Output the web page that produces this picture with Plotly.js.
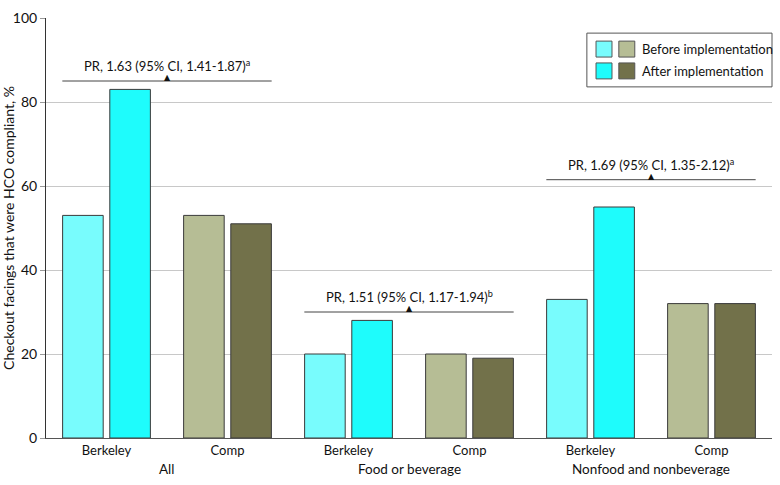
<!DOCTYPE html>
<html>
<head>
<meta charset="utf-8">
<script src="https://cdn.plot.ly/plotly-3.0.1.min.js"></script>
<style>body{margin:0;padding:0;background:#fff}#chart{width:780px;height:485px}</style>
</head>
<body>
<div id="chart"></div>
<script>
// ---- Data ----
const groups = ["All", "Food or beverage", "Nonfood and nonbeverage"];
const sites = ["Berkeley", "Comp", "Berkeley", "Comp", "Berkeley", "Comp"];
const beforeValues = [53, 53, 20, 20, 33, 32];
const afterValues = [83, 51, 28, 19, 55, 32];
const prLabels = [
  "PR, 1.63 (95% CI, 1.41-1.87)<sup>a</sup>",
  "PR, 1.51 (95% CI, 1.17-1.94)<sup>b</sup>",
  "PR, 1.69 (95% CI, 1.35-2.12)<sup>a</sup>"
];
const prLineY = [85, 30, 61.5];
const seriesNames = ["Before implementation", "After implementation"];

// ---- Styles ----
const colBerkBefore = "#78fcfd", colBerkAfter = "#1efcfc";
const colCompBefore = "#b6bd95", colCompAfter = "#72714a";
const font = "Lato, Open Sans, sans-serif";

const xIdx = sites.map((_, i) => i);
const beforeColors = sites.map(s => s === "Berkeley" ? colBerkBefore : colCompBefore);
const afterColors = sites.map(s => s === "Berkeley" ? colBerkAfter : colCompAfter);

const traces = [
  {type: "bar", name: seriesNames[0], x: xIdx, y: beforeValues,
   marker: {color: beforeColors, line: {color: "#3a3a3a", width: 1}}, hoverinfo: "y"},
  {type: "bar", name: seriesNames[1], x: xIdx, y: afterValues,
   marker: {color: afterColors, line: {color: "#3a3a3a", width: 1}}, hoverinfo: "y"}
];

const shapes = [];
const annotations = [];

// group labels
groups.forEach((g, i) => {
  annotations.push({x: 2 * i + 0.5, xref: "x", y: -0.074, yref: "paper", text: g,
    showarrow: false, yanchor: "middle", font: {family: font, size: 13.5, color: "#111"}});
});

// PR brackets
groups.forEach((g, i) => {
  const c = 2 * i + 0.5;
  shapes.push({type: "line", xref: "x", yref: "y", x0: c - 0.865, x1: c + 0.865,
    y0: prLineY[i], y1: prLineY[i], line: {color: "#444", width: 1}});
  annotations.push({x: c, xref: "x", y: prLineY[i], yref: "y", text: "▲", showarrow: false,
    yanchor: "bottom", yshift: -3, font: {family: "DejaVu Sans", size: 8, color: "#111"}});
  annotations.push({x: c, xref: "x", y: prLineY[i], yref: "y", text: prLabels[i], showarrow: false,
    yanchor: "bottom", yshift: 5, font: {family: font, size: 13, color: "#111"}});
});

// custom legend
shapes.push({type: "rect", xref: "paper", yref: "paper", x0: 0.745, x1: 1.0, y0: 0.836, y1: 0.964,
  line: {color: "#555", width: 1}, fillcolor: "#fff", layer: "above"});
const legRows = [[0.907, 0.945, colBerkBefore, colCompBefore], [0.855, 0.893, colBerkAfter, colCompAfter]];
legRows.forEach((r, i) => {
  shapes.push({type: "rect", xref: "paper", yref: "paper", x0: 0.7576, x1: 0.7796, y0: r[0], y1: r[1],
    fillcolor: r[2], line: {color: "#555", width: 1}, layer: "above"});
  shapes.push({type: "rect", xref: "paper", yref: "paper", x0: 0.789, x1: 0.811, y0: r[0], y1: r[1],
    fillcolor: r[3], line: {color: "#555", width: 1}, layer: "above"});
  annotations.push({x: 0.818, xref: "paper", y: (r[0] + r[1]) / 2, yref: "paper", text: seriesNames[i],
    showarrow: false, xanchor: "left", yanchor: "middle", font: {family: font, size: 13, color: "#111"}});
});

const layout = {
  width: 780, height: 485,
  margin: {l: 46, r: 8, t: 18, b: 47},
  paper_bgcolor: "#fff", plot_bgcolor: "#fff",
  showlegend: false,
  barmode: "group", bargap: 0.22, bargroupgap: 0.14,
  font: {family: font, size: 13, color: "#111"},
  xaxis: {range: [-0.5, 5.5], tickvals: xIdx, ticktext: sites, showgrid: false, zeroline: false,
    showline: true, linecolor: "#555", linewidth: 1, ticks: "", tickfont: {family: font, size: 13, color: "#111"}},
  yaxis: {range: [0, 100], dtick: 20, showgrid: true, gridcolor: "#c8c8c8", gridwidth: 1, zeroline: false,
    showline: true, linecolor: "#333", linewidth: 1, ticks: "outside", ticklen: 5, tickcolor: "#999",
    tickfont: {family: font, size: 14, color: "#111"},
    title: {text: "Checkout facings that were HCO compliant, %", font: {family: font, size: 14, color: "#111"}, standoff: 8}},
  shapes: shapes, annotations: annotations
};

Plotly.newPlot("chart", traces, layout, {displayModeBar: false, staticPlot: true});
</script>
</body>
</html>
